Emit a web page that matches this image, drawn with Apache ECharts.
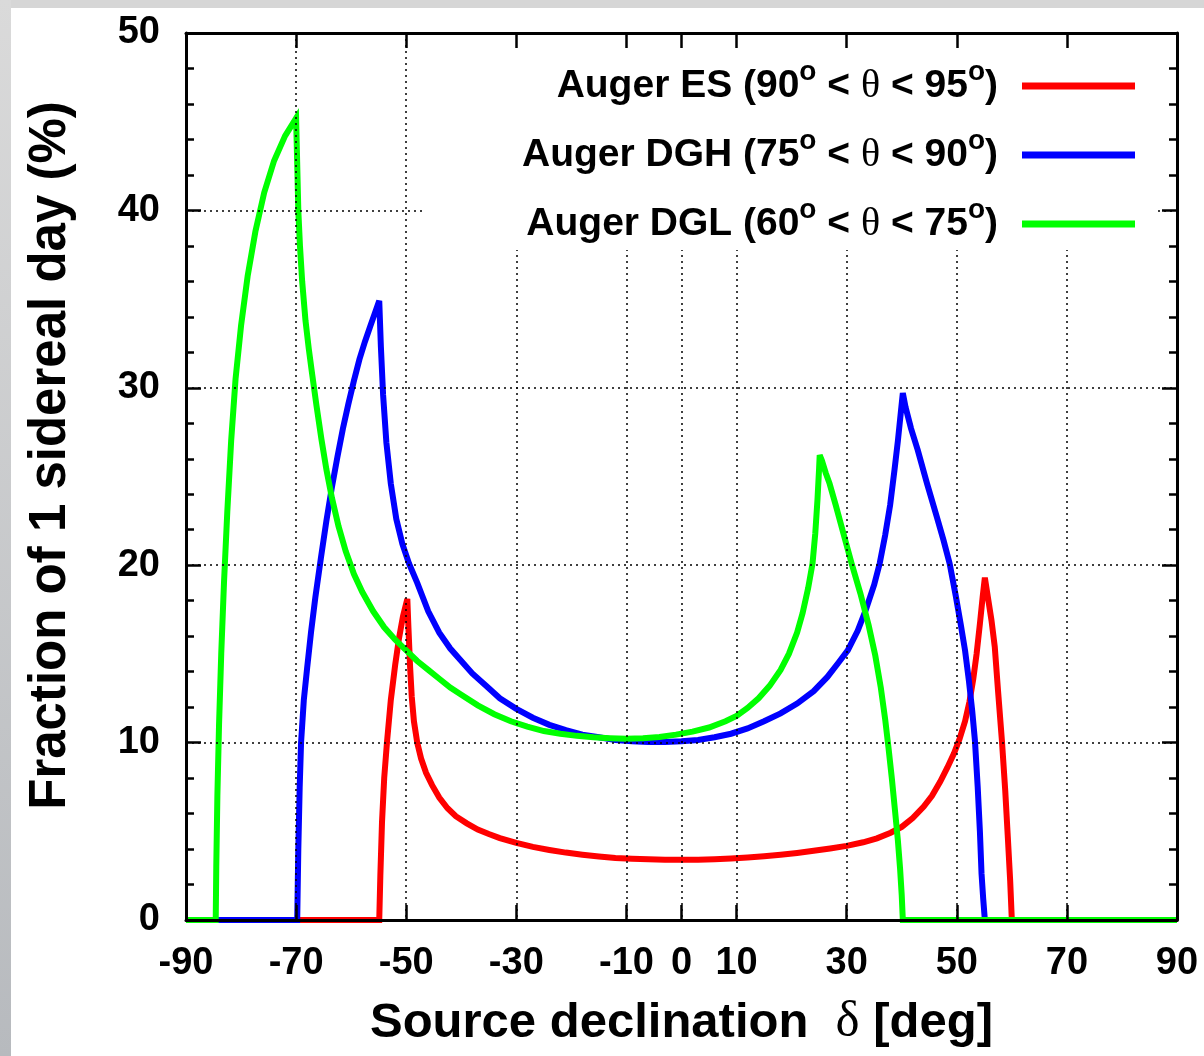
<!DOCTYPE html>
<html><head><meta charset="utf-8">
<script src="https://cdn.jsdelivr.net/npm/echarts@6/dist/echarts.min.js"></script>
<style>html,body{margin:0;padding:0;background:#fff}#c{width:1204px;height:1056px}</style>
</head><body><div id="c"></div>
<script>
// ---- data ----
const xTicks = [-90, -70, -50, -30, -10, 0, 10, 30, 50, 70, 90];
const yTicks = [0, 10, 20, 30, 40, 50];
const seriesNames = ['Auger ES', 'Auger DGH', 'Auger DGL'];
const thetaLow = [90, 75, 60];
const thetaHigh = [95, 90, 75];
const seriesColors = ['#ff0000', '#0000ff', '#00ff00'];

const esDecl = [-90, -54.9, -54.7, -54.4, -54, -53.5, -52.8, -52.0, -51.3, -50.6, -49.8, -49.6, -49.3, -49.0, -48.6, -48.0, -47.3, -46.4, -45.3, -44, -42.5, -41, -39, -37, -35, -33, -30, -27, -24, -21, -18, -15, -12, -9, -6, -3, 0, 3, 6, 9, 12, 15, 18, 21, 24, 27, 30, 33, 35.5, 38, 40, 42, 44, 45.5, 47, 48.3, 49.5, 50.5, 51.5, 52.3, 53, 53.6, 54.2, 54.7, 55.1, 55.6, 56.3, 56.9, 57.5, 58.2, 58.8, 59.3, 59.7, 60, 90];
const esFrac = [0, 0, 2.5, 5.5, 8, 10, 12.4, 14.4, 15.9, 17.1, 18.1, 16.5, 14.3, 12.6, 11.2, 10.0, 9.1, 8.3, 7.6, 6.9, 6.3, 5.85, 5.45, 5.1, 4.85, 4.62, 4.35, 4.12, 3.95, 3.8, 3.68, 3.58, 3.5, 3.45, 3.42, 3.4, 3.4, 3.4, 3.42, 3.46, 3.52, 3.6, 3.68, 3.78, 3.9, 4.03, 4.18, 4.38, 4.6, 4.92, 5.25, 5.75, 6.4, 7.0, 7.8, 8.6, 9.4, 10.2, 11.2, 12.3, 13.6, 15.0, 16.7, 18.2, 19.3, 18.3, 16.9, 15.4, 12.9, 10.1, 7.3, 4.5, 2.2, 0, 0];

const dghDecl = [-90, -69.8, -69.6, -69.35, -69.1, -68.6, -68, -67.3, -66.5, -65.5, -64.5, -63.5, -62.5, -61.5, -60.5, -59.5, -58.5, -57.5, -56.5, -55.7, -54.9, -54.6, -54.2, -53.6, -52.8, -51.8, -50.7, -49.5, -48, -46, -44, -42, -40, -38, -35.5, -33, -30, -27, -24, -21, -18, -15, -12, -9, -6, -3, 0, 3, 6, 9, 12, 15, 18, 21, 24, 26.5, 28.5, 30.2, 32, 33.5, 35, 36, 37, 37.9, 38.7, 39.3, 39.8, 40.2, 40.7, 41.7, 42.9, 44.6, 46.4, 47.6, 48.7, 49.8, 50.7, 51.5, 52.2, 52.8, 53.3, 53.8, 54.2, 54.5, 54.8, 55.1, 90];
const dghFrac = [0, 0, 4, 7.5, 10, 12.4, 14.2, 16.2, 18.2, 20.4, 22.5, 24.4, 26.1, 27.7, 29.1, 30.4, 31.6, 32.6, 33.5, 34.2, 34.9, 32.3, 29.6, 26.9, 24.6, 22.6, 21.2, 20.1, 19.0, 17.4, 16.2, 15.3, 14.6, 13.9, 13.2, 12.5, 11.9, 11.4, 11.0, 10.7, 10.45, 10.3, 10.15, 10.07, 10.03, 10.03, 10.07, 10.15, 10.3, 10.5, 10.8, 11.2, 11.65, 12.2, 12.9, 13.7, 14.5, 15.2, 16.3, 17.5, 18.9, 20.1, 21.7, 23.4, 25.4, 27, 28.5, 29.7, 28.9, 27.7, 26.5, 24.6, 22.7, 21.4, 20.1, 18.3, 16.7, 15.2, 13.5, 11.8, 10.1, 7.5, 5, 2.6, 1.2, 0, 0];

const dglDecl = [-90, -84.6, -84.5, -84.3, -84.0, -83.6, -83.1, -82.5, -81.8, -81.0, -80.0, -78.8, -77.4, -75.8, -74, -72, -70, -69.8, -69.6, -69.3, -68.9, -68.3, -67.7, -67.1, -66.3, -65.4, -64.5, -63.5, -62.3, -61, -59.5, -58, -56, -54, -52, -50, -48, -46, -44, -42, -40, -37, -34, -31, -28, -25, -22, -19, -16, -13, -10, -7, -4, -1, 2, 5, 8, 10, 12, 14, 16, 18, 19.5, 21, 22, 23, 23.8, 24.3, 24.7, 25.0, 25.1, 25.5, 26.2, 26.9, 28, 29.4, 30.9, 32.5, 34, 35.2, 36.2, 37, 37.6, 38.2, 38.8, 39.3, 39.7, 40.0, 40.2, 90];
const dglFrac = [0, 0, 3, 7, 11, 15, 19, 23, 27, 30.5, 33.5, 36.3, 38.8, 41, 42.8, 44.2, 45.2, 42.6, 40, 38, 36, 33.8, 32.2, 30.8, 29.0, 27.1, 25.4, 23.8, 22.2, 20.8, 19.5, 18.5, 17.4, 16.5, 15.8, 15.2, 14.6, 14.1, 13.6, 13.1, 12.7, 12.1, 11.6, 11.2, 10.9, 10.65, 10.5, 10.38, 10.3, 10.25, 10.22, 10.25, 10.32, 10.45, 10.62, 10.85, 11.2, 11.5, 11.95, 12.5, 13.2, 14.1, 15.0, 16.2, 17.3, 18.7, 20.1, 21.8, 23.7, 25.5, 26.2, 25.9, 25.2, 24.6, 23.4, 21.8, 20.1, 18.4, 16.6, 14.9, 13.1, 11.3, 9.7, 8.0, 6.1, 4.5, 2.9, 1.4, 0, 0];

// ---- build ----
const declArrays = [esDecl, dghDecl, dglDecl];
const fracArrays = [esFrac, dghFrac, dglFrac];
const pairs = (xs, ys) => xs.map((x, i) => [x, ys[i]]);

const FONT = 'Liberation Sans';
const chart = echarts.init(document.getElementById('c'), null, {renderer: 'canvas'});

const legendRich = {
  a: {fontFamily: FONT, fontWeight: 'bold', fontSize: 39, lineHeight: 56, color: '#000'},
  s: {fontFamily: FONT, fontWeight: 'bold', fontSize: 28, lineHeight: 28, verticalAlign: 'top', color: '#000'},
  t: {fontFamily: 'Liberation Serif', fontSize: 40, lineHeight: 56, color: '#000'},
  g: {width: 19, lineHeight: 56}
};

const tickStyle = {color: '#000', width: 2.5};
const gridDots = {color: '#000', width: 1.5, type: [2, 4]};

const option = {
  backgroundColor: '#ffffff',
  animation: false,
  graphic: [
    {type: 'rect', z: -100, silent: true, shape: {x: 0, y: 0, width: 1204, height: 8}, style: {fill: '#d6d6d6'}},
    {type: 'rect', z: -100, silent: true, shape: {x: 0, y: 0, width: 11, height: 1056},
     style: {fill: new echarts.graphic.LinearGradient(0, 0, 0, 1, [{offset: 0, color: '#dadada'}, {offset: 1, color: '#b7babe'}])}}
  ],
  grid: {left: 186, right: 27, top: 33, bottom: 136, containLabel: false},
  legend: {
    show: true,
    z: 20,
    orient: 'vertical',
    align: 'right',
    right: 47,
    top: 35,
    padding: [23, 22, 6, 96],
    backgroundColor: '#ffffff',
    itemGap: 21,
    itemWidth: 113,
    itemHeight: 7,
    icon: 'rect',
    selectedMode: false,
    data: seriesNames,
    formatter: function (name) {
      const i = seriesNames.indexOf(name);
      return '{a|' + name + ' (' + thetaLow[i] + '}{s|o}{a| < }{t|θ}{a| < ' + thetaHigh[i] + '}{s|o}{a|)}{g|}';
    },
    textStyle: {rich: legendRich}
  },
  xAxis: [{
    type: 'value', min: -90, max: 90, interval: 10, position: 'bottom', z: 10,
    name: '{a|Source declination  }{d|δ}{a| [deg]}',
    nameLocation: 'middle', nameGap: 73,
    nameTextStyle: {rich: {
      a: {fontFamily: FONT, fontWeight: 'bold', fontSize: 49, color: '#000', lineHeight: 60},
      d: {fontFamily: 'Liberation Serif', fontSize: 51, color: '#000', lineHeight: 60}
    }},
    axisLine: {show: true, onZero: false, lineStyle: {color: '#000', width: 3}},
    axisTick: {show: true, inside: true, length: 15, customValues: xTicks, lineStyle: tickStyle},
    axisLabel: {show: true, customValues: xTicks, margin: 25, fontFamily: FONT, fontWeight: 'bold', fontSize: 38, color: '#000',
      formatter: v => String(v)},
    splitLine: {show: true, lineStyle: gridDots}
  }, {
    type: 'value', min: -90, max: 90, interval: 10, position: 'top', z: 30,
    axisLine: {show: true, onZero: false, lineStyle: {color: '#000', width: 3}},
    axisTick: {show: true, inside: true, length: 15, customValues: xTicks, lineStyle: tickStyle},
    axisLabel: {show: false},
    splitLine: {show: false}
  }],
  yAxis: [{
    type: 'value', min: 0, max: 50, interval: 10, position: 'left', z: 10,
    name: 'Fraction of 1 sidereal day (%)',
    nameLocation: 'middle', nameGap: 110, nameRotate: 90,
    nameTextStyle: {fontFamily: FONT, fontWeight: 'bold', fontSize: 51, color: '#000', padding: [0, 0, 0, 42]},
    axisLine: {show: true, onZero: false, lineStyle: {color: '#000', width: 3}},
    axisTick: {show: true, inside: true, length: 15, lineStyle: tickStyle},
    minorTick: {show: true, splitNumber: 5, length: 8, lineStyle: tickStyle},
    axisLabel: {show: true, margin: 26, fontFamily: FONT, fontWeight: 'bold', fontSize: 38, color: '#000'},
    splitLine: {show: true, lineStyle: gridDots}
  }, {
    type: 'value', min: 0, max: 50, interval: 10, position: 'right', z: 30,
    axisLine: {show: true, onZero: false, lineStyle: {color: '#000', width: 3}},
    axisTick: {show: true, inside: true, length: 15, lineStyle: tickStyle},
    minorTick: {show: true, splitNumber: 5, length: 8, lineStyle: tickStyle},
    axisLabel: {show: false},
    splitLine: {show: false}
  }],
  series: seriesNames.map((n, i) => ({
    name: n,
    type: 'line',
    xAxisIndex: 0, yAxisIndex: 0,
    data: pairs(declArrays[i], fracArrays[i]),
    showSymbol: false, symbol: 'none',
    smooth: false,
    z: 3 + i,
    color: seriesColors[i],
    itemStyle: {color: seriesColors[i]},
    lineStyle: {color: seriesColors[i], width: 6, join: 'miter', miterLimit: 4}
  }))
};
chart.setOption(option);
</script>
</body></html>
